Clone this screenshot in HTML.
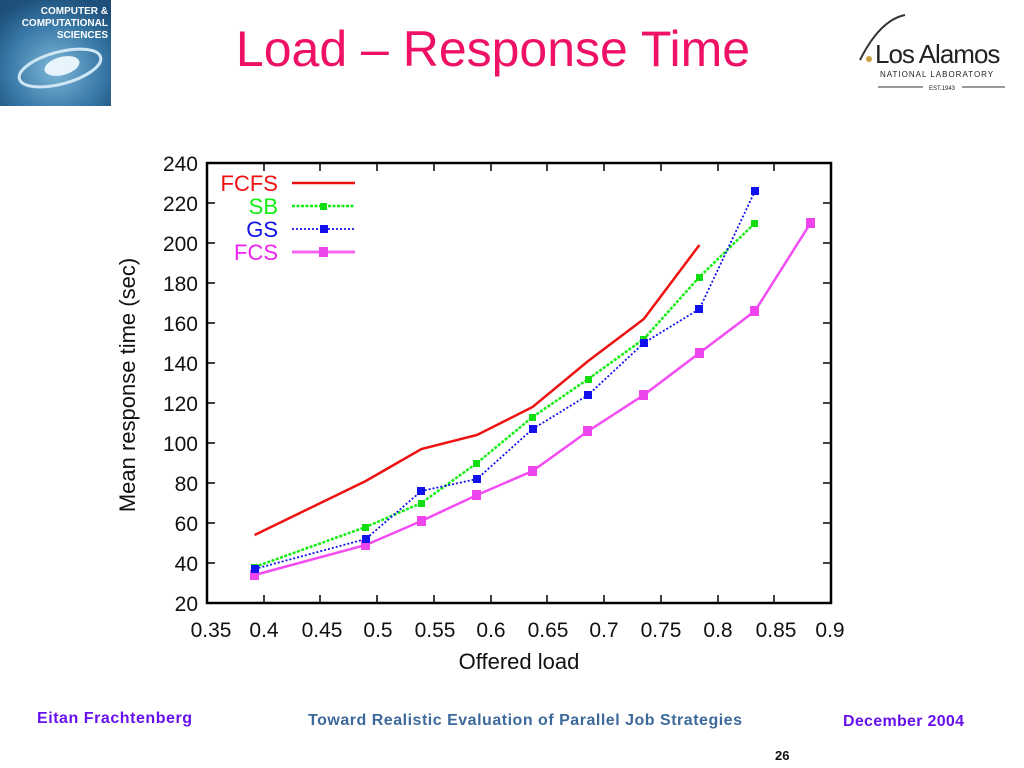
<!DOCTYPE html>
<html><head><meta charset="utf-8"><style>
html,body{margin:0;padding:0;background:#fff;}
body{width:1024px;height:768px;overflow:hidden;position:relative;font-family:"Liberation Sans",sans-serif;}
</style></head><body>
<svg width="1024" height="768" xmlns="http://www.w3.org/2000/svg" style="position:absolute;left:0;top:0">
<defs>
<radialGradient id="lg" cx="0.5" cy="0.65" r="0.7"><stop offset="0" stop-color="#7fb7d8"/><stop offset="0.6" stop-color="#3a7aa8"/><stop offset="1" stop-color="#1d4f7a"/></radialGradient>
</defs>
<rect x="0" y="0" width="111" height="106" fill="url(#lg)"/>
<ellipse cx="60" cy="68" rx="42" ry="16" fill="none" stroke="#cfe6f5" stroke-width="3" transform="rotate(-15 60 68)"/>
<ellipse cx="62" cy="66" rx="18" ry="9" fill="#e8f4fb" transform="rotate(-15 62 66)"/>
<text x="108" y="14" text-anchor="end" font-size="10" font-weight="bold" fill="#fff">COMPUTER &amp;</text>
<text x="108" y="26" text-anchor="end" font-size="10" font-weight="bold" fill="#fff">COMPUTATIONAL</text>
<text x="108" y="38" text-anchor="end" font-size="10" font-weight="bold" fill="#fff">SCIENCES</text>
<text x="493" y="66" text-anchor="middle" font-size="50" fill="#ee1166">Load – Response Time</text>
<path d="M860 60 Q880 20 905 15" stroke="#333" stroke-width="2" fill="none"/>
<circle cx="869" cy="59" r="3" fill="#c9a040"/>
<text x="875" y="63" font-size="26" fill="#222" letter-spacing="-1">Los Alamos</text>
<text x="880" y="77" font-size="8" fill="#222" letter-spacing="1">NATIONAL LABORATORY</text>
<line x1="878" y1="87" x2="923" y2="87" stroke="#333"/><line x1="962" y1="87" x2="1005" y2="87" stroke="#333"/>
<text x="942" y="90" text-anchor="middle" font-size="6" fill="#222">EST.1943</text>

<g font-size="21" fill="#111">
<rect x="207" y="163" width="624" height="440" fill="none" stroke="#000" stroke-width="2.5"/>
<g stroke="#000" stroke-width="1.5">
<path d="M207 563h8M207 523h8M207 483h8M207 443h8M207 403h8M207 363h8M207 323h8M207 283h8M207 243h8M207 203h8M831 563h-8M831 523h-8M831 483h-8M831 443h-8M831 403h-8M831 363h-8M831 323h-8M831 283h-8M831 243h-8M831 203h-8"/>
<path d="M264 603v-8M320 603v-8M377 603v-8M434 603v-8M491 603v-8M547 603v-8M604 603v-8M661 603v-8M718 603v-8M774 603v-8M264 163v8M320 163v8M377 163v8M434 163v8M491 163v8M547 163v8M604 163v8M661 163v8M718 163v8M774 163v8"/>
</g>
<g text-anchor="end">
<text x="198" y="611">20</text><text x="198" y="571">40</text><text x="198" y="531">60</text><text x="198" y="491">80</text><text x="198" y="451">100</text><text x="198" y="411">120</text><text x="198" y="371">140</text><text x="198" y="331">160</text><text x="198" y="291">180</text><text x="198" y="251">200</text><text x="198" y="211">220</text><text x="198" y="171">240</text>
</g>
<g text-anchor="middle">
<text x="211" y="637">0.35</text><text x="264" y="637">0.4</text><text x="322" y="637">0.45</text><text x="378" y="637">0.5</text><text x="435" y="637">0.55</text><text x="491" y="637">0.6</text><text x="548" y="637">0.65</text><text x="604" y="637">0.7</text><text x="661" y="637">0.75</text><text x="718" y="637">0.8</text><text x="776" y="637">0.85</text><text x="830" y="637">0.9</text>
<text x="519" y="669" font-size="22">Offered load</text>
<text transform="translate(135 385) rotate(-90)" font-size="22">Mean response time (sec)</text>
</g>
<g fill="none" stroke-width="2.5">
<polyline stroke="#ee00ee" stroke-opacity="0.7" points="254.6,575 365.8,545 421.4,521 477,495 532.6,471 588.2,431 643.8,395 699.4,353 755,311 810.6,223"/>
<polyline stroke="#ee1111" points="254.6,535 365.8,481 421.4,449 477,435 532.6,407 588.2,361 643.8,319 699.4,245"/>
<polyline stroke="#11ee11" stroke-dasharray="3,1.5" points="254.6,567 365.8,527 421.4,503 477,463 532.6,417 588.2,379 643.8,339 699.4,277 755,223"/>
<polyline stroke="#1111ee" stroke-width="1.8" stroke-dasharray="2,2" points="254.6,569 365.8,539 421.4,491 477,479 532.6,429 588.2,395 643.8,343 699.4,309 755,191"/>
</g>
<g fill="#ee44ee">
<rect x="250" y="570" width="9" height="10"/><rect x="361" y="540" width="9" height="10"/><rect x="417" y="516" width="9" height="10"/><rect x="472" y="490" width="9" height="10"/><rect x="528" y="466" width="9" height="10"/><rect x="583" y="426" width="9" height="10"/><rect x="639" y="390" width="9" height="10"/><rect x="695" y="348" width="9" height="10"/><rect x="750" y="306" width="9" height="10"/><rect x="806" y="218" width="9" height="10"/>
</g>
<g fill="#11dd11">
<rect x="251" y="564" width="7" height="7"/><rect x="362" y="524" width="7" height="7"/><rect x="418" y="500" width="7" height="7"/><rect x="473" y="460" width="7" height="7"/><rect x="529" y="414" width="7" height="7"/><rect x="585" y="376" width="7" height="7"/><rect x="640" y="336" width="7" height="7"/><rect x="696" y="274" width="7" height="7"/><rect x="751" y="220" width="7" height="7"/>
</g>
<g fill="#1111ee">
<rect x="251" y="565" width="8" height="8"/><rect x="362" y="535" width="8" height="8"/><rect x="417" y="487" width="8" height="8"/><rect x="473" y="475" width="8" height="8"/><rect x="529" y="425" width="8" height="8"/><rect x="584" y="391" width="8" height="8"/><rect x="640" y="339" width="8" height="8"/><rect x="695" y="305" width="8" height="8"/><rect x="751" y="187" width="8" height="8"/>
</g>
<g font-size="22" text-anchor="end">
<text x="278" y="191" fill="#ee1111">FCFS</text>
<text x="278" y="214" fill="#11ee11">SB</text>
<text x="278" y="237" fill="#1111ee">GS</text>
<text x="278" y="260" fill="#ee22ee">FCS</text>
</g>
<line x1="292" y1="183" x2="355" y2="183" stroke="#ee1111" stroke-width="2.5"/>
<line x1="292" y1="206" x2="355" y2="206" stroke="#11ee11" stroke-width="2.5" stroke-dasharray="3,1.5"/><rect x="320" y="203" width="7" height="7" fill="#11dd11"/>
<line x1="292" y1="229" x2="355" y2="229" stroke="#1111ee" stroke-width="1.8" stroke-dasharray="2,2"/><rect x="320" y="225" width="8" height="8" fill="#1111ee"/>
<line x1="292" y1="252" x2="355" y2="252" stroke="#ee00ee" stroke-opacity="0.6" stroke-width="3"/><rect x="319" y="247" width="9" height="10" fill="#ee44ee"/>
</g>
<text x="37" y="723" font-size="16" font-weight="bold" fill="#6611ee" textLength="155">Eitan Frachtenberg</text>
<text x="308" y="725" font-size="16" font-weight="bold" fill="#3d6a9a" textLength="434">Toward Realistic Evaluation of Parallel Job Strategies</text>
<text x="843" y="726" font-size="16" font-weight="bold" fill="#6611ee" textLength="121">December 2004</text>
<text x="775" y="760" font-size="13" font-weight="bold" fill="#111">26</text>
</svg>
</body></html>
